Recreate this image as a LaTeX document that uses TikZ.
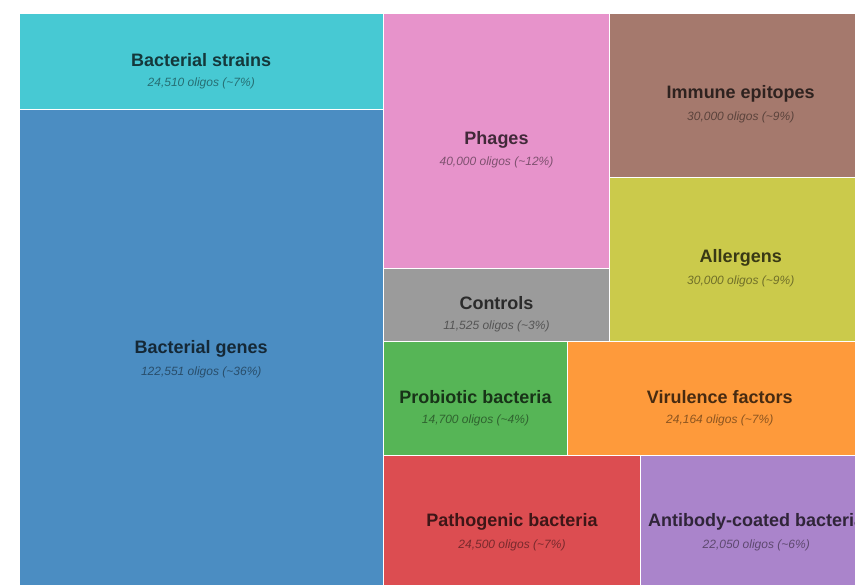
\documentclass[tikz,border=0pt]{standalone}
\usepackage{fontspec}
\setmainfont{Liberation Sans}
\definecolor{cstrains}{HTML}{47C9D3}
\definecolor{cgenes}{HTML}{4B8DC2}
\definecolor{cphages}{HTML}{E793CB}
\definecolor{cimmune}{HTML}{A5796D}
\definecolor{callergens}{HTML}{CBCA4B}
\definecolor{ccontrols}{HTML}{9B9B9B}
\definecolor{cprobiotic}{HTML}{56B556}
\definecolor{cvirulence}{HTML}{FE9A3B}
\definecolor{cpathogenic}{HTML}{DC4D51}
\definecolor{cantibody}{HTML}{AA84CB}
\begin{document}
\begin{tikzpicture}
  [x=1pt,y=-1pt,
  tile/.style={draw=white,line width=1pt,inner sep=0pt,outer sep=0pt},
  tiletitle/.style={font=\fontsize{18}{20}\selectfont\bfseries,text=#1!28!black,yshift=1.5pt},
  tilecount/.style={font=\fontsize{12}{14}\selectfont\itshape,text=#1!55!black,yshift=-21.5pt}]
  \useasboundingbox (0,0) rectangle (855,585);
  \clip (0,0) rectangle (855,585);
  % left column
  \node[tile,fill=cstrains,minimum width=364.5pt,minimum height=95.5pt] (strains) at (201.25,61.75) {};
  \node[tiletitle=cstrains] at (strains.center) {Bacterial strains};
  \node[tilecount=cstrains] at (strains.center) {24,510 oligos (\textasciitilde7\%)};
  \node[tile,fill=cgenes,minimum width=364.5pt,minimum height=482.5pt] (genes) at (201.25,350.75) {};
  \node[tiletitle=cgenes] at (genes.center) {Bacterial genes};
  \node[tilecount=cgenes] at (genes.center) {122,551 oligos (\textasciitilde36\%)};
  % middle and right
  \node[tile,fill=cphages,minimum width=226pt,minimum height=254.5pt] (phages) at (496.5,141.25) {};
  \node[tiletitle=cphages] at (phages.center) {Phages};
  \node[tilecount=cphages] at (phages.center) {40,000 oligos (\textasciitilde12\%)};
  \node[tile,fill=cimmune,minimum width=262.5pt,minimum height=163.5pt] (immune) at (740.75,95.75) {};
  \node[tiletitle=cimmune] at (immune.center) {Immune epitopes};
  \node[tilecount=cimmune] at (immune.center) {30,000 oligos (\textasciitilde9\%)};
  \node[tile,fill=callergens,minimum width=262.5pt,minimum height=164pt] (allergens) at (740.75,259.5) {};
  \node[tiletitle=callergens] at (allergens.center) {Allergens};
  \node[tilecount=callergens] at (allergens.center) {30,000 oligos (\textasciitilde9\%)};
  \node[tile,fill=ccontrols,minimum width=226pt,minimum height=73pt] (controls) at (496.5,305) {};
  \node[tiletitle=ccontrols] at (controls.center) {Controls};
  \node[tilecount=ccontrols] at (controls.center) {11,525 oligos (\textasciitilde3\%)};
  \node[tile,fill=cprobiotic,minimum width=184pt,minimum height=114pt] (probiotic) at (475.5,398.5) {};
  \node[tiletitle=cprobiotic] at (probiotic.center) {Probiotic bacteria};
  \node[tilecount=cprobiotic] at (probiotic.center) {14,700 oligos (\textasciitilde4\%)};
  \node[tile,fill=cvirulence,minimum width=304.5pt,minimum height=114pt] (virulence) at (719.75,398.5) {};
  \node[tiletitle=cvirulence] at (virulence.center) {Virulence factors};
  \node[tilecount=cvirulence] at (virulence.center) {24,164 oligos (\textasciitilde7\%)};
  \node[tile,fill=cpathogenic,minimum width=257pt,minimum height=136.5pt] (pathogenic) at (512,523.75) {};
  \node[tiletitle=cpathogenic] at (pathogenic.center) {Pathogenic bacteria};
  \node[tilecount=cpathogenic] at (pathogenic.center) {24,500 oligos (\textasciitilde7\%)};
  \node[tile,fill=cantibody,minimum width=231.5pt,minimum height=136.5pt] (antibody) at (756.25,523.75) {};
  \node[tiletitle=cantibody] at (antibody.center) {Antibody-coated bacteria};
  \node[tilecount=cantibody] at (antibody.center) {22,050 oligos (\textasciitilde6\%)};
\end{tikzpicture}
\end{document}
